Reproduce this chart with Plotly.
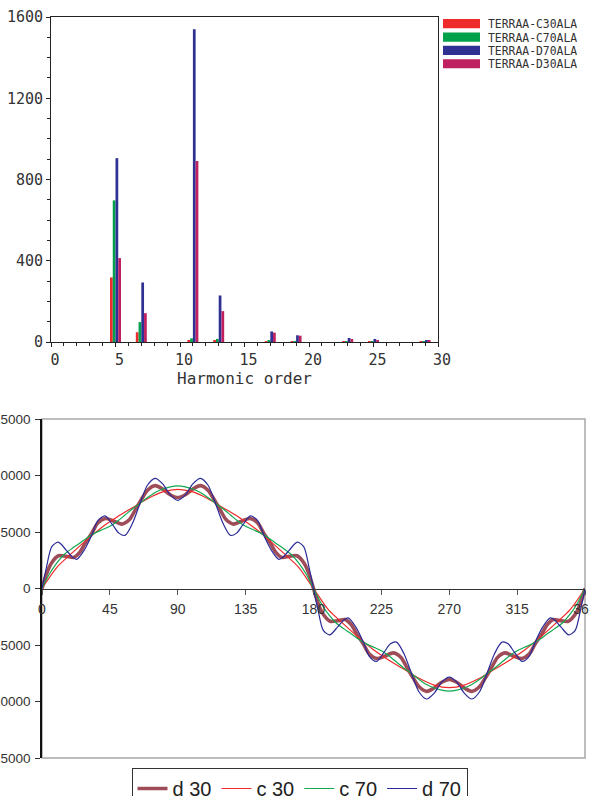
import plotly.graph_objects as go

W, H = 589, 796

# ---------------- top chart data (harmonic spectrum) ----------------
harmonics = [5, 7, 11, 13, 17, 19, 23, 25, 29]
bar_names = ["TERRAA-C30ALA", "TERRAA-C70ALA", "TERRAA-D70ALA", "TERRAA-D30ALA"]
bar_colors = ["#EE2A2A", "#00A14B", "#2E3192", "#BF2060"]
c30ala = [318, 48, 10, 8, 4, 3, 2, 2, 1]
c70ala = [697, 98, 18, 15, 5, 4, 3, 3, 3]
d70ala = [905, 293, 1540, 229, 52, 33, 20, 15, 10]
d30ala = [413, 142, 891, 152, 46, 31, 15, 10, 6]
bar_values = [c30ala, c70ala, d70ala, d30ala]
top_xticks = [0, 5, 10, 15, 20, 25, 30]
top_yticks = [0, 400, 800, 1200, 1600]

# ---------------- bottom chart data (current waveforms) ----------------
d30_deg = [0, 3, 6, 11, 16, 21, 25, 29, 33, 37, 42, 47, 53, 58, 62, 66, 70, 75, 80, 85, 90,
           95, 100, 105, 110, 114, 118, 122, 127, 133, 138, 143, 147, 151, 155, 159, 164, 169, 174, 177, 180,
           183, 186, 191, 196, 201, 205, 209, 213, 217, 222, 227, 233, 238, 242, 246, 250, 255, 260, 265, 270,
           275, 280, 285, 290, 294, 298, 302, 307, 313, 318, 323, 327, 331, 335, 339, 344, 349, 354, 357, 360]
d30_val = [0, 1300, 2200, 2900, 2850, 2750, 3200, 4100, 4900, 5800, 6200, 6000, 5700, 6100, 7000, 7900, 8700, 9100, 8800, 8300, 8050,
           8300, 8800, 9100, 8700, 7900, 7000, 6100, 5700, 6000, 6200, 5800, 4900, 4100, 3200, 2750, 2850, 2900, 2200, 1300, 0,
           -1300, -2200, -2900, -2850, -2750, -3200, -4100, -4900, -5800, -6200, -6000, -5700, -6100, -7000, -7900, -8700, -9100, -8800, -8300, -8050,
           -8300, -8800, -9100, -8700, -7900, -7000, -6100, -5700, -6000, -6200, -5800, -4900, -4100, -3200, -2750, -2850, -2900, -2200, -1300, 0]

c30_deg = [0, 10, 20, 30, 40, 50, 60, 70, 80, 90, 100, 110, 120, 130, 140, 150, 160, 170, 180,
           190, 200, 210, 220, 230, 240, 250, 260, 270, 280, 290, 300, 310, 320, 330, 340, 350, 360]
c30_val = [0, 1900, 3150, 4350, 5450, 6350, 7150, 7950, 8550, 8780, 8550, 7950, 7150, 6350, 5450, 4350, 3150, 1900, 0,
           -1900, -3150, -4350, -5450, -6350, -7150, -7950, -8550, -8780, -8550, -7950, -7150, -6350, -5450, -4350, -3150, -1900, 0]

c70_deg = [0, 5, 10, 15, 20, 25, 30, 35, 40, 45, 50, 55, 60, 65, 70, 75, 80, 85, 90,
           95, 100, 105, 110, 115, 120, 125, 130, 135, 140, 145, 150, 155, 160, 165, 170, 175, 180,
           185, 190, 195, 200, 205, 210, 215, 220, 225, 230, 235, 240, 245, 250, 255, 260, 265, 270,
           275, 280, 285, 290, 295, 300, 305, 310, 315, 320, 325, 330, 335, 340, 345, 350, 355, 360]
c70_val = [0, 1300, 2300, 3050, 3550, 4000, 4500, 4900, 5200, 5500, 5950, 6500, 7050, 7550, 8050, 8500, 8800, 9000, 9080,
           9000, 8800, 8500, 8050, 7550, 7050, 6500, 5950, 5500, 5200, 4900, 4500, 4000, 3550, 3050, 2300, 1300, 0,
           -1300, -2300, -3050, -3550, -4000, -4500, -4900, -5200, -5500, -5950, -6500, -7050, -7550, -8050, -8500, -8800, -9000, -9080,
           -9000, -8800, -8500, -8050, -7550, -7050, -6500, -5950, -5500, -5200, -4900, -4500, -4000, -3550, -3050, -2300, -1300, 0]

d70_deg = [0, 3, 6.5, 10.8, 16, 20, 23, 28, 33, 37, 41.8, 47, 51, 55, 60, 65, 70, 75, 80, 85, 90,
           95, 100, 105, 110, 115, 120, 125, 129, 133, 138.2, 143, 147, 152, 157, 160, 164, 169.2, 173.5, 177, 180,
           183, 186.5, 190.8, 196, 200, 203, 208, 213, 217, 221.8, 227, 231, 235, 240, 245, 250, 255, 260, 265, 270,
           275, 280, 285, 290, 295, 300, 305, 309, 313, 318.2, 323, 327, 332, 337, 340, 344, 349.2, 353.5, 357, 360]
d70_val = [0, 1900, 3700, 4100, 3400, 2800, 2580, 3400, 4730, 6000, 6420, 5600, 4900, 4700, 5770, 7540, 9160, 9750, 9260, 8290, 7800,
           8290, 9260, 9750, 9160, 7540, 5770, 4700, 4900, 5600, 6420, 6000, 4730, 3400, 2580, 2800, 3400, 4100, 3700, 1900, 0,
           -1900, -3700, -4100, -3400, -2800, -2600, -3400, -4730, -6000, -6450, -5600, -4900, -4750, -5770, -7540, -9160, -9780, -9260, -8290, -7850,
           -8290, -9260, -9780, -9160, -7540, -5770, -4750, -4900, -5600, -6450, -6000, -4730, -3400, -2600, -2800, -3400, -4100, -3700, -1900, 0]

line_names = ["d 30", "c 30", "c 70", "d 70"]
line_colors = ["#9E4D58", "#F02828", "#12A850", "#2B2B98"]
line_widths = [3.6, 1.2, 1.2, 1.2]
line_deg = [d30_deg, c30_deg, c70_deg, d70_deg]
line_val = [d30_val, c30_val, c70_val, d70_val]
bottom_xticks = [0, 45, 90, 135, 180, 225, 270, 315, 360]
bottom_yticks = [-15000, -10000, -5000, 0, 5000, 10000, 15000]

mono = "DejaVu Sans Mono"
fig = go.Figure()

for name, col, vals in zip(bar_names, bar_colors, bar_values):
    fig.add_trace(go.Bar(x=harmonics, y=vals, name=name, marker=dict(color=col, line=dict(width=0)),
                         xaxis="x", yaxis="y", showlegend=False))

for name, col, w, xs, ys in zip(line_names, line_colors, line_widths, line_deg, line_val):
    fig.add_trace(go.Scatter(x=xs, y=ys, name=name, mode="lines",
                             line=dict(color=col, width=w, shape="spline", smoothing=0.8),
                             xaxis="x2", yaxis="y2"))

# domains (pixel-based layout)
top_x = [51 / W, 438 / W]
top_y = [1 - 342 / H, 1 - 17 / H]
bot_x = [42 / W, 585 / W]
bot_y = [1 - 758 / H, 1 - 419 / H]

# custom legend for top chart
shapes = []
annotations = []
for i, (name, col) in enumerate(zip(bar_names, bar_colors)):
    yc = 23.7 + 13.35 * i
    shapes.append(dict(type="rect", xref="paper", yref="paper", x0=443 / W, x1=480 / W,
                       y0=1 - (yc + 4.6) / H, y1=1 - (yc - 4.6) / H,
                       fillcolor=col, line=dict(width=0)))
    annotations.append(dict(text=name, xref="paper", yref="paper", x=487 / W, y=1 - yc / H,
                            xanchor="left", yanchor="middle", showarrow=False, height=11,
                            borderpad=0, valign="middle",
                            font=dict(family=mono, size=11.4, color="#333")))

# bottom plot frame (gray)
shapes.append(dict(type="rect", xref="x2 domain", yref="y2 domain", x0=0, x1=1, y0=0, y1=1,
                   line=dict(color="#A9A6A6", width=1.5), layer="below"))

fig.update_layout(
    width=W, height=H,
    margin=dict(l=0, r=0, t=0, b=0, autoexpand=False),
    paper_bgcolor="white", plot_bgcolor="white",
    barmode="group", bargap=0.575, bargroupgap=0,
    font=dict(family="Arial", color="#333"),
    shapes=shapes, annotations=annotations,
    xaxis=dict(domain=top_x, anchor="y", range=[0, 30], tickvals=top_xticks,
               showline=True, linecolor="#222", linewidth=1, mirror=True,
               ticks="outside", ticklen=4, tickcolor="#222", showgrid=False, zeroline=False,
               minor=dict(dtick=1, tick0=0, ticks="outside", ticklen=3, tickcolor="#222", showgrid=False),
               tickfont=dict(family=mono, size=15, color="#333"), ticklabelshift=4,
               title=dict(text="Harmonic order", font=dict(family=mono, size=16, color="#333"), standoff=3),
               automargin=False),
    yaxis=dict(domain=top_y, anchor="x", range=[0, 1600], tickvals=top_yticks,
               showline=True, linecolor="#222", linewidth=1, mirror=True,
               ticks="outside", ticklen=4, tickcolor="#222", showgrid=False, zeroline=False,
               minor=dict(dtick=100, tick0=0, ticks="outside", ticklen=3, tickcolor="#222", showgrid=False),
               tickfont=dict(family=mono, size=15, color="#333"), automargin=False),
    xaxis2=dict(domain=bot_x, anchor="free", position=(bot_y[0] + bot_y[1]) / 2, range=[0, 360],
                tickvals=bottom_xticks, tickformat="d", ticklabeloverflow="allow", ticklabelstandoff=3,
                showline=True, linecolor="#333", linewidth=1,
                ticks="outside", ticklen=5, tickcolor="#555", showgrid=False, zeroline=False,
                tickfont=dict(family="Arial", size=14, color="#333"), automargin=False),
    yaxis2=dict(domain=bot_y, anchor="x2", range=[-15000, 15000], tickvals=bottom_yticks, tickformat="d",
                ticklabeloverflow="allow", ticklabelstandoff=2,
                showline=True, linecolor="#111", linewidth=1.5,
                ticks="outside", ticklen=5, tickcolor="#333", showgrid=False, zeroline=False,
                tickfont=dict(family="Arial", size=13.5, color="#333"), automargin=False),
    legend=dict(orientation="h", x=299.5 / W, xanchor="center", y=1 - 768 / H, yanchor="top",
                bordercolor="#333", borderwidth=1, bgcolor="white",
                font=dict(family="Arial", size=20, color="#222"), traceorder="normal"),
)

fig.write_html("out.html")
